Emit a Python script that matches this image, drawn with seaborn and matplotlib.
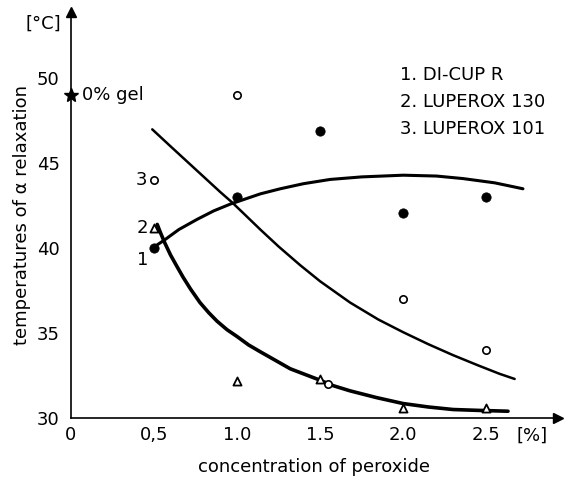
"""Alpha relaxation temperature vs. peroxide concentration."""

import matplotlib
matplotlib.use("Agg")
import matplotlib.pyplot as plt
import pandas as pd
import seaborn as sns

conc = [0.5, 1.0, 1.5, 2.0, 2.5]
dicup_t = [40.0, 43.0, 46.9, 42.1, 43.0]          # 1. DI-CUP R (filled circles)
lup130_t = [41.2, 32.2, 32.3, 30.6, 30.6]         # 2. LUPEROX 130 (triangles)
lup101_x = [0.5, 1.0, 1.55, 2.0, 2.5]
lup101_t = [44.0, 49.0, 32.0, 37.0, 34.0]         # 3. LUPEROX 101 (open circles)
gel_x, gel_t = 0.0, 49.0

# hand-drawn trend curves, traced point by point
curve_a_x = [0.49, 0.6, 0.7, 0.8, 0.9, 0.97, 1.05, 1.14, 1.25, 1.38, 1.5,
             1.68, 1.85, 2.0, 2.15, 2.3, 2.45, 2.58, 2.67]
curve_a_t = [47.0, 46.0, 45.1, 44.2, 43.3, 42.7, 41.95, 41.1, 40.1, 39.0, 38.05,
             36.8, 35.8, 35.05, 34.35, 33.7, 33.1, 32.6, 32.3]
curve_b_x = [0.52, 0.566, 0.65, 0.76, 0.86, 0.96, 1.05, 1.14, 1.26, 1.4, 1.56,
             1.75, 2.0, 2.2, 2.36, 2.55, 2.72]
curve_b_t = [40.2, 40.5, 41.1, 41.7, 42.2, 42.6, 42.9, 43.2, 43.5, 43.8, 44.05,
             44.2, 44.3, 44.25, 44.1, 43.85, 43.5]
curve_c_x = [0.52, 0.54, 0.566, 0.6, 0.64, 0.675, 0.72, 0.777, 0.83, 0.88, 0.94,
             1.0, 1.07, 1.14, 1.23, 1.32, 1.4, 1.48, 1.58, 1.68, 1.84, 2.0,
             2.15, 2.3, 2.45, 2.63]
curve_c_t = [41.4, 40.9, 40.3, 39.6, 38.9, 38.3, 37.6, 36.8, 36.2, 35.7, 35.2,
             34.8, 34.3, 33.9, 33.4, 32.9, 32.6, 32.3, 31.9, 31.6, 31.2, 30.85,
             30.65, 30.5, 30.45, 30.4]

x_ticks = [0, 0.5, 1.0, 1.5, 2.0, 2.5]
x_labels = ["0", "0,5", "1.0", "1.5", "2.0", "2.5"]
y_ticks = [30, 35, 40, 45, 50]
legend_lines = ["1. DI-CUP R", "2. LUPEROX 130", "3. LUPEROX 101"]

sns.set_style("white")
plt.rcParams["font.family"] = ["DejaVu Sans"]
plt.rcParams["font.size"] = 13
plt.rcParams["text.color"] = "black"
plt.rcParams["axes.labelcolor"] = "black"

fig = plt.figure(figsize=(5.71, 4.78), dpi=100)
ax = fig.add_axes([0.124, 0.1255, 0.853, 0.849])

ink = "black"
for cx, ct, lw in [(curve_a_x, curve_a_t, 1.8), (curve_b_x, curve_b_t, 2.2), (curve_c_x, curve_c_t, 2.6)]:
    df = pd.DataFrame({"x": cx, "t": ct})
    sns.lineplot(data=df, x="x", y="t", ax=ax, color=ink, lw=lw, sort=False,
                 estimator=None, solid_joinstyle="round", solid_capstyle="round")

sns.scatterplot(x=conc, y=dicup_t, ax=ax, marker="o", s=45, color=ink, edgecolor=ink, zorder=5)
sns.scatterplot(x=lup101_x, y=lup101_t, ax=ax, marker="o", s=28, facecolor="white",
                edgecolor=ink, linewidth=1.2, zorder=5)
sns.scatterplot(x=conc, y=lup130_t, ax=ax, marker="^", s=34, facecolor="white",
                edgecolor=ink, linewidth=1.3, zorder=5)
ax.plot(gel_x, gel_t, marker="*", ms=10, color=ink, clip_on=False, zorder=6)
ax.text(0.07, gel_t, "0% gel", va="center", ha="left")

# series numbers next to the first points
ax.text(0.46, 44.0, "3", ha="right", va="center")
ax.text(0.465, 41.2, "2", ha="right", va="center")
ax.text(0.465, 39.3, "1", ha="right", va="center")

for i, line in enumerate(legend_lines):
    ax.text(1.98, 50.2 - i * 1.6, line, ha="left", va="center")

ax.set_xlim(0, 2.93)
ax.set_ylim(30, 53.9)
ax.set_xticks(x_ticks)
ax.set_xticklabels(x_labels)
ax.set_yticks(y_ticks)
ax.tick_params(axis="x", direction="in", length=6, width=1.1, colors=ink, pad=6)
ax.tick_params(axis="y", direction="in", length=6, width=1.1, colors=ink, pad=8)
for side in ["top", "right"]:
    ax.spines[side].set_visible(False)
for side in ["left", "bottom"]:
    ax.spines[side].set_linewidth(1.2)
    ax.spines[side].set_color(ink)

# arrow heads on the axes
ax.plot(1, 0, ">", color=ink, ms=7, transform=ax.transAxes, clip_on=False)
ax.plot(0, 1, "^", color=ink, ms=7, transform=ax.transAxes, clip_on=False)

ax.annotate("[%]", xy=(2.68, 30), xycoords="data", xytext=(0, -6),
            textcoords="offset points", ha="left", va="top")
ax.text(-0.06, 53.2, "[°C]", ha="right", va="center")

ax.set_xlabel("concentration of peroxide", labelpad=10)
ax.set_ylabel("temperatures of α relaxation", labelpad=4)

fig.savefig("out.png", dpi=100)
